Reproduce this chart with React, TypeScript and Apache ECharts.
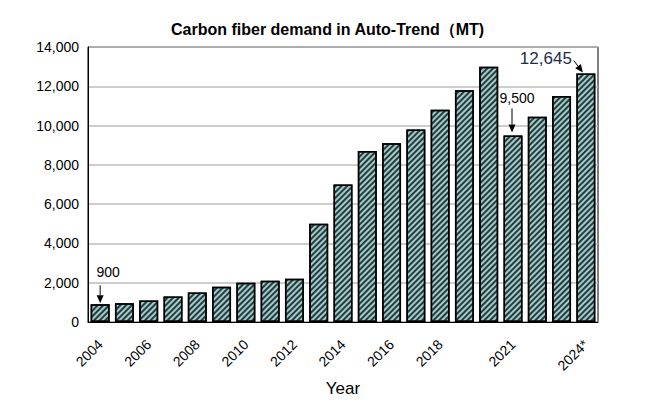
import React, { useEffect, useRef } from "react";
import * as echarts from "echarts";

// Carbon fiber demand in automotive, metric tons per year
const years = [
  "2004", "2005", "2006", "2007", "2008", "2009", "2010", "2011", "2012", "2013",
  "2014", "2015", "2016", "2017", "2018", "2019", "2020", "2021", "2022", "2023", "2024*",
];
const demand = [
  900, 950, 1100, 1300, 1500, 1800, 2000, 2100, 2200, 5000,
  7000, 8700, 9100, 9800, 10800, 11800, 13000, 9500, 10450, 11500, 12645,
];
// Years whose tick label is printed
const labelledYears = ["2004", "2006", "2008", "2010", "2012", "2014", "2016", "2018", "2021", "2024*"];
// Bars that carry a value callout
const calloutYears = ["2004", "2021", "2024*"];
const calloutTexts = ["900", "9,500", "12,645"];

// Pixel offsets of each callout relative to its bar's top centre
const calloutLayout = [
  { from: [0, -19], to: [0, -1], text: [8, -32], align: "center", size: 14, color: "#000" },
  { from: [-1, -27], to: [-1, -3], text: [4, -37], align: "center", size: 14, color: "#000" },
  { from: [-12, -13], to: [-3, -1], text: [-14, -15], align: "right", size: 17, color: "#1c2c4c" },
];

const FONT = "Arial, 'Liberation Sans', sans-serif";

export default function App() {
  const ref = useRef<HTMLDivElement>(null);

  useEffect(() => {
    if (!ref.current) return;
    const chart = echarts.init(ref.current, null, { renderer: "svg" });

    const calloutData = calloutYears.map((y, i) => [years.indexOf(y), demand[years.indexOf(y)], i]);

    chart.setOption({
      animation: false,
      backgroundColor: "#fff",
      title: {
        text: "Carbon fiber demand in Auto-Trend（MT)",
        left: 166,
        top: 16,
        textStyle: { fontFamily: FONT, fontSize: 16, fontWeight: "bold", color: "#000" },
      },
      grid: {
        left: 88,
        right: 62,
        top: 47,
        bottom: 81,
        show: true,
        borderColor: "#000",
        borderWidth: 1,
        backgroundColor: "transparent",
      },
      xAxis: {
        type: "category",
        data: years,
        name: "Year",
        nameLocation: "middle",
        nameGap: 55,
        nameTextStyle: { fontFamily: FONT, fontSize: 17, color: "#000" },
        axisLine: { show: true, lineStyle: { color: "#000", width: 1 } },
        axisTick: { show: false },
        axisLabel: {
          interval: (_i: number, v: string) => labelledYears.includes(v),
          rotate: 45,
          margin: 20,
          fontFamily: FONT,
          fontSize: 14,
          color: "#000",
        },
      },
      yAxis: {
        type: "value",
        min: 0,
        max: 14000,
        interval: 2000,
        axisLine: { show: true, lineStyle: { color: "#000", width: 1 } },
        axisTick: { show: false },
        axisLabel: {
          margin: 9,
          fontFamily: FONT,
          fontSize: 14,
          color: "#000",
          formatter: (v: number) => v.toLocaleString("en-US"),
        },
        splitLine: { show: true, lineStyle: { color: "#bdbdbd", width: 1.5 } },
      },
      series: [
        {
          type: "bar",
          data: demand,
          barCategoryGap: "22%",
          itemStyle: {
            color: "#a3caca",
            borderColor: "#000",
            borderWidth: 1.5,
            decal: {
              symbol: "rect",
              symbolSize: 1,
              dashArrayX: [1, 0],
              dashArrayY: [1.1, 1.1],
              rotation: -Math.PI / 4,
              color: "rgba(15,35,35,0.85)",
            },
          },
        },
        {
          type: "custom",
          data: calloutData,
          z: 10,
          clip: false,
          renderItem: (_params: any, api: any) => {
            const idx = api.value(0);
            const val = api.value(1);
            const k = api.value(2);
            const lay = calloutLayout[k];
            const [bx, by] = api.coord([idx, val]);
            const x1 = bx + lay.from[0];
            const y1 = by + lay.from[1];
            const x2 = bx + lay.to[0];
            const y2 = by + lay.to[1];
            const ang = Math.atan2(y2 - y1, x2 - x1);
            const headLen = 8;
            const headW = 3.5;
            const bxh = x2 - headLen * Math.cos(ang);
            const byh = y2 - headLen * Math.sin(ang);
            const px = -Math.sin(ang) * headW;
            const py = Math.cos(ang) * headW;
            return {
              type: "group",
              children: [
                {
                  type: "line",
                  shape: { x1, y1, x2: bxh, y2: byh },
                  style: { stroke: "#000", lineWidth: 1 },
                },
                {
                  type: "polygon",
                  shape: { points: [[x2, y2], [bxh + px, byh + py], [bxh - px, byh - py]] },
                  style: { fill: "#000" },
                },
                {
                  type: "text",
                  x: bx + lay.text[0],
                  y: by + lay.text[1],
                  style: {
                    text: calloutTexts[k],
                    fill: lay.color,
                    font: `${lay.size}px ${FONT}`,
                    align: lay.align,
                    verticalAlign: "middle",
                  },
                },
              ],
            };
          },
        },
      ],
    });

    return () => chart.dispose();
  }, []);

  return (
    <div
      ref={ref}
      style={{ position: "absolute", left: 0, top: 0, width: 660, height: 403 }}
    />
  );
}
